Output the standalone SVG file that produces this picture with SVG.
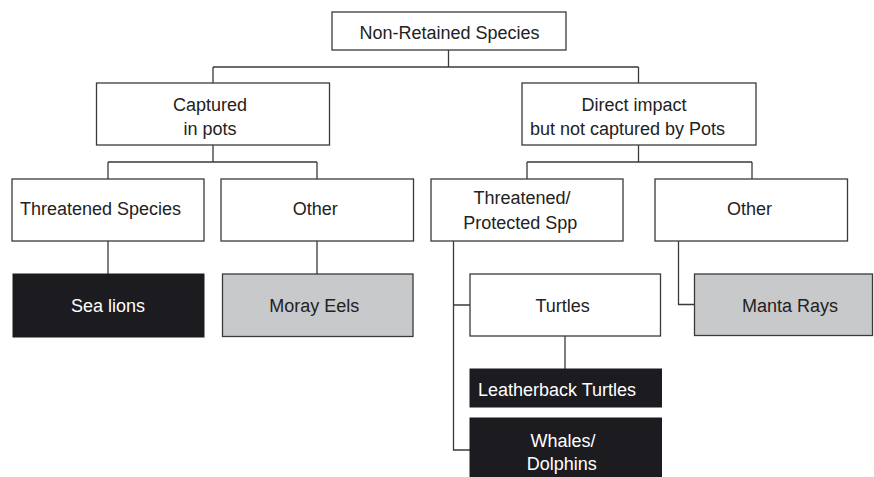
<svg xmlns="http://www.w3.org/2000/svg" width="874" height="477" viewBox="0 0 874 477">
  <style>
    text { font-family: "Liberation Sans", Arial, sans-serif; font-size: 18px; text-anchor: middle; }
    .box { fill: #ffffff; stroke: #3a3a3a; stroke-width: 1.3; }
    .dark { fill: #1c1b1f; stroke: #1c1b1f; stroke-width: 1; }
    .grey { fill: #c8c9cb; stroke: #3a3a3a; stroke-width: 1.3; }
    .t { fill: #222222; }
    .tw { fill: #ffffff; }
    .link { fill: none; stroke: #3a3a3a; stroke-width: 1.3; }
  </style>

  <g id="connectors">
    <!-- root to level 1 -->
    <path class="link" d="M448.5 50 V67 M213 67 H638.5 M213 67 V83 M638.5 67 V83"/>
    <!-- Captured in pots to its children -->
    <path class="link" d="M213 145 V162 M108 162 H317 M108 162 V179 M317 162 V179"/>
    <!-- Direct impact to its children -->
    <path class="link" d="M638.5 145 V162 M527 162 H752 M527 162 V179 M752 162 V179"/>
    <!-- leaves on the left -->
    <path class="link" d="M108 241 V274 M317 241 V274"/>
    <!-- Threatened/Protected branch -->
    <path class="link" d="M453.5 241 V450 H470 M453.5 305 H470"/>
    <path class="link" d="M565 336 V369"/>
    <!-- right Other to Manta Rays -->
    <path class="link" d="M678.5 241 V304.5 H694.5"/>
  </g>

  <g id="root">
    <rect class="box" x="332" y="12" width="234" height="38"/>
    <text class="t" x="449.5" y="39">Non-Retained Species</text>
  </g>

  <g id="captured">
    <rect class="box" x="96.5" y="83" width="233" height="62"/>
    <text class="t" x="210" y="111">Captured</text>
    <text class="t" x="210" y="135">in pots</text>
  </g>

  <g id="direct">
    <rect class="box" x="522" y="83" width="234" height="62"/>
    <text class="t" x="634" y="111">Direct impact</text>
    <text class="t" x="627.5" y="135">but not captured by Pots</text>
  </g>

  <g id="threatened-species">
    <rect class="box" x="12" y="179" width="192" height="62"/>
    <text class="t" x="100.5" y="215">Threatened Species</text>
  </g>

  <g id="other-left">
    <rect class="box" x="221" y="179" width="192.5" height="62"/>
    <text class="t" x="315.3" y="215">Other</text>
  </g>

  <g id="threatened-protected">
    <rect class="box" x="431" y="179" width="192" height="62"/>
    <text class="t" x="522" y="204">Threatened/</text>
    <text class="t" x="520.3" y="229">Protected Spp</text>
  </g>

  <g id="other-right">
    <rect class="box" x="655" y="179" width="192.5" height="62"/>
    <text class="t" x="749.5" y="215">Other</text>
  </g>

  <g id="sea-lions">
    <rect class="dark" x="13" y="274" width="191" height="63"/>
    <text class="tw" x="108" y="311.5">Sea lions</text>
  </g>

  <g id="moray-eels">
    <rect class="grey" x="222.5" y="274" width="190.5" height="62.5"/>
    <text class="t" x="314.2" y="311.5">Moray Eels</text>
  </g>

  <g id="turtles">
    <rect class="box" x="470" y="274" width="190.5" height="62"/>
    <text class="t" x="562.7" y="311.5">Turtles</text>
  </g>

  <g id="manta-rays">
    <rect class="grey" x="694.5" y="274" width="178" height="61.5"/>
    <text class="t" x="790" y="311.5">Manta Rays</text>
  </g>

  <g id="leatherback">
    <rect class="dark" x="470" y="369" width="191.5" height="38"/>
    <text class="tw" x="557" y="395.5">Leatherback Turtles</text>
  </g>

  <g id="whales">
    <rect class="dark" x="470" y="418" width="191.5" height="60"/>
    <text class="tw" x="563" y="447">Whales/</text>
    <text class="tw" x="561.7" y="470">Dolphins</text>
  </g>
</svg>
